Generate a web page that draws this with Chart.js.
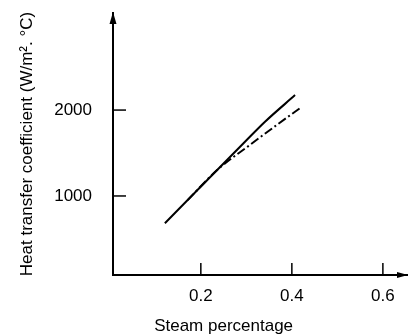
<!DOCTYPE html>
<html>
<head>
<meta charset="utf-8">
<script src="https://cdn.jsdelivr.net/npm/chart.js@4/dist/chart.umd.min.js"></script>
<style>
  html, body { margin: 0; padding: 0; background: #fff; }
  #wrap { width: 408px; height: 336px; }
</style>
</head>
<body>
<div id="wrap"><canvas id="c" width="408" height="336"></canvas></div>
<script>
// ---- data ----
const solidX = [0.121, 0.297, 0.341, 0.407];
const solidY = [682, 1631, 1864, 2174];
const dashX = [0.171, 0.237, 0.303, 0.369, 0.418];
const dashY = [952, 1308, 1575, 1835, 2023];
const xTickValues = [0.2, 0.4, 0.6];
const yTickValues = [1000, 2000];
const xTitle = 'Steam percentage';
const yTitle = 'Heat transfer coefficient (W/m\u00B2. \u00B0C)';

const FONT = 'Liberation Sans, Arial, Helvetica, sans-serif';

const toPoints = (xs, ys) => xs.map((x, i) => ({x: x, y: ys[i]}));

const axisExtras = {
  id: 'axisExtras',
  afterDraw(chart) {
    const ctx = chart.ctx;
    const xs = chart.scales.x, ys = chart.scales.y;
    const a = chart.chartArea;
    ctx.save();
    ctx.strokeStyle = '#000';
    ctx.fillStyle = '#000';
    ctx.lineWidth = 1.5;
    // inward tick marks
    yTickValues.forEach(v => {
      const py = ys.getPixelForValue(v);
      ctx.beginPath(); ctx.moveTo(a.left, py); ctx.lineTo(a.left + 13, py); ctx.stroke();
    });
    xTickValues.forEach(v => {
      const px = xs.getPixelForValue(v);
      ctx.beginPath(); ctx.moveTo(px, a.bottom); ctx.lineTo(px, a.bottom - 12); ctx.stroke();
    });
    // arrow heads
    ctx.beginPath();
    ctx.moveTo(a.left - 3.5, a.top + 11);
    ctx.lineTo(a.left, a.top - 1);
    ctx.lineTo(a.left + 3.5, a.top + 11);
    ctx.closePath(); ctx.fill();
    ctx.beginPath();
    ctx.moveTo(a.right - 10, a.bottom - 3);
    ctx.lineTo(a.right + 1, a.bottom);
    ctx.lineTo(a.right - 10, a.bottom + 3);
    ctx.closePath(); ctx.fill();
    // x axis title, centred under the curves like the reference
    ctx.font = '17px ' + FONT;
    ctx.textAlign = 'center';
    ctx.textBaseline = 'middle';
    ctx.fillText(xTitle, xs.getPixelForValue(0.25), 326);
    ctx.restore();
  }
};

new Chart(document.getElementById('c'), {
  type: 'scatter',
  data: {
    datasets: [
      {
        data: toPoints(solidX, solidY),
        showLine: true, borderColor: '#000', borderWidth: 2,
        pointRadius: 0, cubicInterpolationMode: 'monotone', fill: false
      },
      {
        data: toPoints(dashX, dashY),
        showLine: true, borderColor: '#000', borderWidth: 2,
        borderDash: [9, 3, 2, 3],
        pointRadius: 0, cubicInterpolationMode: 'monotone', fill: false
      }
    ]
  },
  options: {
    responsive: false,
    animation: false,
    devicePixelRatio: 1,
    layout: { padding: { top: 13, right: 1, left: 0, bottom: 0 } },
    plugins: { legend: { display: false }, tooltip: { enabled: false } },
    scales: {
      x: {
        type: 'linear', min: 0.007, max: 0.653,
        afterBuildTicks: s => { s.ticks = xTickValues.map(v => ({value: v})); },
        afterFit: s => { s.height = 61; s.paddingLeft = 0; s.paddingRight = 0; },
        grid: { display: true, drawOnChartArea: false, drawTicks: false, color: 'rgba(0,0,0,0)' },
        border: { display: true, color: '#000', width: 2 },
        ticks: {
          color: '#000', padding: 11, maxRotation: 0,
          font: { family: FONT, size: 17 },
          callback: v => v.toFixed(1)
        }
      },
      y: {
        type: 'linear', min: 80, max: 3130,
        afterBuildTicks: s => { s.ticks = yTickValues.map(v => ({value: v})); },
        afterFit: s => { s.width = 113; s.paddingTop = 0; s.paddingBottom = 0; },
        grid: { display: true, drawOnChartArea: false, drawTicks: false, color: 'rgba(0,0,0,0)' },
        border: { display: true, color: '#000', width: 2 },
        ticks: {
          color: '#000', padding: 21,
          font: { family: FONT, size: 17 },
          callback: v => String(v)
        },
        title: {
          display: true, text: yTitle, color: '#000',
          font: { family: FONT, size: 17 },
          padding: { top: 17, bottom: 0 }
        }
      }
    }
  },
  plugins: [axisExtras]
});
</script>
</body>
</html>
